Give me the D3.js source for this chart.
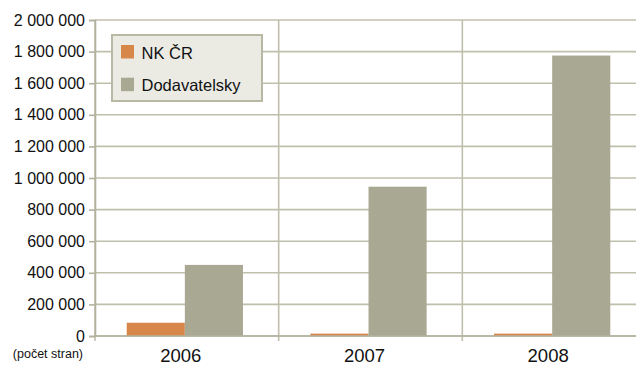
<!DOCTYPE html>
<html>
<head>
<meta charset="utf-8">
<script src="https://cdn.jsdelivr.net/npm/d3@7"></script>
<style>
  html, body { margin: 0; padding: 0; background: #fff; }
  svg { display: block; }
  text { font-family: "Liberation Sans", Arial, sans-serif; fill: #111; }
</style>
</head>
<body>
<svg id="chart" width="636" height="366"></svg>
<script>
// Počet stran podle roku
const years = ["2006", "2007", "2008"];
const seriesNames = ["NK ČR", "Dodavatelsky"];
const nkCR = [84000, 15000, 15000];
const dodavatelsky = [450000, 945000, 1775000];
const yTicks = [0, 200000, 400000, 600000, 800000, 1000000, 1200000, 1400000, 1600000, 1800000, 2000000];
const unitLabel = "(počet stran)";

const colors = ["#d8874a", "#a9a993"];
const gridColor = "#c0bfac";

const svg = d3.select("#chart");
const plotLeft = 95, plotRight = 646, plotTop = 20, plotBottom = 336;

const y = d3.scaleLinear().domain([0, 2000000]).range([plotBottom, plotTop]);
const x0 = d3.scaleBand().domain(years).range([plotLeft, plotRight]).padding(0);
const x1 = d3.scaleBand().domain(seriesNames).range([0, x0.bandwidth()])
  .paddingInner(0).paddingOuter(0.58);

const fmt = v => d3.format(",")(v).replace(/,/g, " ");

// horizontal gridlines
svg.append("g")
  .selectAll("line")
  .data(yTicks)
  .join("line")
  .attr("x1", plotLeft).attr("x2", plotRight)
  .attr("y1", d => y(d)).attr("y2", d => y(d))
  .attr("stroke", gridColor).attr("stroke-width", 1.6);

// vertical category dividers (with ticks below the baseline)
const dividers = years.map(c => x0(c));
svg.append("g")
  .selectAll("line")
  .data(dividers)
  .join("line")
  .attr("x1", d => d).attr("x2", d => d)
  .attr("y1", plotTop).attr("y2", plotBottom + 5)
  .attr("stroke", gridColor).attr("stroke-width", 1.6);

// y axis
const yAxis = d3.axisLeft(y).tickValues(yTicks).tickFormat(fmt).tickSize(6).tickPadding(4);
const gy = svg.append("g").attr("transform", `translate(${plotLeft},0)`).call(yAxis);
gy.select(".domain").attr("stroke", "#b3b29e").attr("stroke-width", 1.6);
gy.selectAll(".tick line").attr("stroke", "#b3b29e").attr("stroke-width", 1.6);
gy.selectAll(".tick text")
  .style("font-family", "'Liberation Sans', Arial, sans-serif")
  .style("font-size", "16px").attr("fill", "#111");

// bars
const data = years.map((yr, i) => ({ year: yr, values: [nkCR[i], dodavatelsky[i]] }));
const groups = svg.append("g")
  .selectAll("g")
  .data(data)
  .join("g")
  .attr("transform", d => `translate(${x0(d.year)},0)`);
groups.selectAll("rect")
  .data(d => d.values.map((v, j) => ({ key: seriesNames[j], value: v, j })))
  .join("rect")
  .attr("x", d => x1(d.key) - 2)
  .attr("width", x1.bandwidth())
  .attr("y", d => y(d.value))
  .attr("height", d => y(0) - y(d.value))
  .attr("fill", d => colors[d.j]);

// baseline
svg.append("line")
  .attr("x1", plotLeft).attr("x2", plotRight)
  .attr("y1", y(0)).attr("y2", y(0))
  .attr("stroke", "#b3b29e").attr("stroke-width", 1.6);

// category labels
svg.append("g")
  .selectAll("text")
  .data(years)
  .join("text")
  .attr("x", d => x0(d) + x0.bandwidth() / 2 - 6)
  .attr("y", 362)
  .attr("text-anchor", "middle")
  .style("font-size", "18.5px")
  .text(d => d);

// unit label
svg.append("text")
  .attr("x", 83).attr("y", 358)
  .attr("text-anchor", "end")
  .style("font-size", "12.5px")
  .text(unitLabel);

// legend
const legend = svg.append("g");
legend.append("rect")
  .attr("x", 112).attr("y", 35)
  .attr("width", 150).attr("height", 66)
  .attr("fill", "#ebebe4").attr("stroke", "#b9b8a4").attr("stroke-width", 2);
seriesNames.forEach((name, i) => {
  legend.append("rect")
    .attr("x", 121).attr("y", 45 + i * 32.7)
    .attr("width", 13).attr("height", 13.5)
    .attr("fill", colors[i]);
  legend.append("text")
    .attr("x", 141.5).attr("y", 58.5 + i * 32.7)
    .style("font-size", "16.5px")
    .text(name);
});
</script>
</body>
</html>
